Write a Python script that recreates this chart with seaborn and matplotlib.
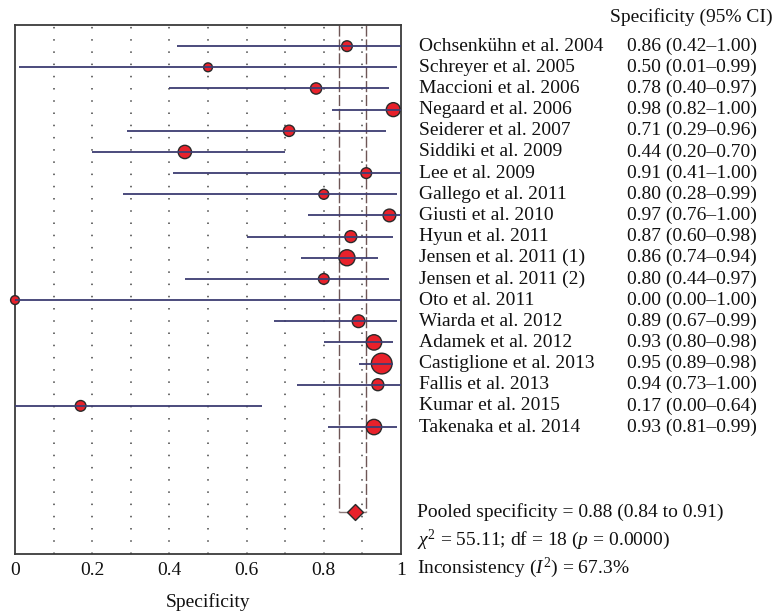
import numpy as np
import pandas as pd
import matplotlib
matplotlib.use("Agg")
import matplotlib.pyplot as plt
import matplotlib.transforms as mtransforms
import seaborn as sns

# ---------------- data ----------------
studies = ["Ochsenkühn et al. 2004", "Schreyer et al. 2005", "Maccioni et al. 2006",
           "Negaard et al. 2006", "Seiderer et al. 2007", "Siddiki et al. 2009",
           "Lee et al. 2009", "Gallego et al. 2011", "Giusti et al. 2010",
           "Hyun et al. 2011", "Jensen et al. 2011 (1)", "Jensen et al. 2011 (2)",
           "Oto et al. 2011", "Wiarda et al. 2012", "Adamek et al. 2012",
           "Castiglione et al. 2013", "Fallis et al. 2013", "Kumar et al. 2015",
           "Takenaka et al. 2014"]
spec = [0.86, 0.50, 0.78, 0.98, 0.71, 0.44, 0.91, 0.80, 0.97, 0.87, 0.86, 0.80,
        0.00, 0.89, 0.93, 0.95, 0.94, 0.17, 0.93]
ci_low = [0.42, 0.01, 0.40, 0.82, 0.29, 0.20, 0.41, 0.28, 0.76, 0.60, 0.74, 0.44,
          0.00, 0.67, 0.80, 0.89, 0.73, 0.00, 0.81]
ci_high = [1.00, 0.99, 0.97, 1.00, 0.96, 0.70, 1.00, 0.99, 1.00, 0.98, 0.94, 0.97,
           1.00, 0.99, 0.98, 0.98, 1.00, 0.64, 0.99]
weight = [3.7, 2.5, 4.1, 6.3, 4.1, 5.7, 3.7, 3.2, 5.2, 4.6, 8.3, 3.7, 2.5, 5.2,
          7.6, 13.8, 4.6, 3.7, 7.6]
pooled = 0.88
pooled_low = 0.84
pooled_high = 0.91
xticks = [0, 0.2, 0.4, 0.6, 0.8, 1]
xticklabels = ["0", "0.2", "0.4", "0.6", "0.8", "1"]
header = "Specificity (95% CI)"
xlabel = "Specificity"
pooled_text = "Pooled specificity = 0.88 (0.84 to 0.91)"
chi_text = r"$\chi^2$ = 55.11; df = 18 ($p$ = 0.0000)"
incons_text = r"Inconsistency ($I^2$) = 67.3%"

# ---------------- style ----------------
sns.set_theme(style="white")
plt.rcParams["font.family"] = ["Liberation Serif", "DejaVu Serif"]
plt.rcParams["mathtext.fontset"] = "custom"
plt.rcParams["mathtext.rm"] = "Liberation Serif"
plt.rcParams["mathtext.it"] = "Liberation Serif:italic"
plt.rcParams["mathtext.bf"] = "Liberation Serif:bold"
FS = 14

df = pd.DataFrame({"study": studies, "spec": spec, "lo": ci_low, "hi": ci_high,
                   "weight": weight})
df["row"] = np.arange(len(df))
pooled_row = len(df) + 3

W, H = 781, 616
fig = plt.figure(figsize=(W / 100, H / 100), dpi=100)
ax = fig.add_axes([15 / W, 1 - 554 / H, 386 / W, 529 / H])

# dotted grid
for gx in np.arange(0.1, 0.95, 0.1):
    ax.axvline(gx, color="#444444", lw=1.1, ls=(0, (1, 7)), zorder=0)

# pooled CI dashed lines
ax.vlines([pooled_low, pooled_high], -1, pooled_row, color="#6e5656", lw=1.0,
          ls=(0, (8, 2)), zorder=1)
ax.hlines(pooled_row, pooled_low, pooled_high, color="#8a7a7a", lw=1.0, zorder=1)

# study points
k = 16.07
sns.scatterplot(data=df, x="spec", y="row", size="weight",
                sizes=(min(weight) * k, max(weight) * k),
                size_norm=(min(weight), max(weight)),
                color="#e8212b", edgecolor="#2a2a2a", linewidth=1.0,
                legend=False, ax=ax, zorder=3, clip_on=False)

# CI lines on top
ax.hlines(df["row"], df["lo"], df["hi"], color="#3d3d72", lw=1.3, zorder=4,
          clip_on=False)

# pooled diamond
sns.scatterplot(x=[pooled], y=[pooled_row], marker="D", s=66, color="#e8212b",
                edgecolor="#2a2a2a", linewidth=1.0, ax=ax, zorder=5, legend=False)

ax.set_xlim(0, 1)
ax.set_ylim(pooled_row + 2, -1)
ax.set_yticks([])
ax.set_xticks(xticks)
ax.set_xticklabels(xticklabels, fontsize=FS)
ax.tick_params(axis="x", length=0, pad=6, colors="#111111")
ax.set_xlabel(xlabel, fontsize=FS, labelpad=10, color="#111111")
ax.set_ylabel("")
for sp in ax.spines.values():
    sp.set_visible(True)
    sp.set_color("#3a3a3a")
    sp.set_linewidth(1.3)

trans = mtransforms.blended_transform_factory(fig.transFigure, ax.transData)
for _, r in df.iterrows():
    ax.text(419 / W, r["row"], r["study"], transform=trans, fontsize=FS,
            va="center", ha="left", color="#111111")
    ax.text(627 / W, r["row"], f"{r['spec']:.2f} ({r['lo']:.2f}\u2013{r['hi']:.2f})",
            transform=trans, fontsize=FS, va="center", ha="left", color="#111111")

fig.text(610 / W, 1 - 17 / H, header, fontsize=FS, va="center", ha="left",
         color="#111111")
ax.text(417 / W, pooled_row, pooled_text, transform=trans, fontsize=FS,
        va="center", ha="left", color="#111111")
ax.text(417 / W, pooled_row + 1.33, chi_text, transform=trans, fontsize=FS,
        va="center", ha="left", color="#111111")
ax.text(417 / W, pooled_row + 2.65, incons_text, transform=trans, fontsize=FS,
        va="center", ha="left", color="#111111")

fig.savefig("out.png", dpi=100)
